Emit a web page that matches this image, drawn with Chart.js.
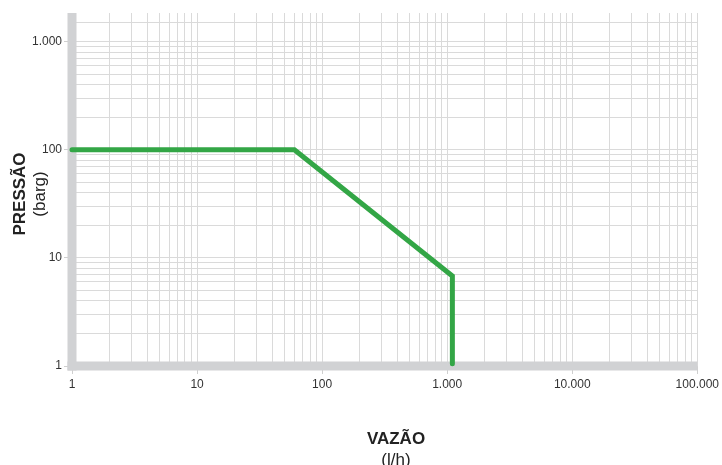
<!DOCTYPE html>
<html>
<head>
<meta charset="utf-8">
<script src="https://cdn.jsdelivr.net/npm/chart.js@4.4.1/dist/chart.umd.min.js"></script>
<style>
  html, body { margin: 0; padding: 0; background: #fff; }
  #wrap { width: 722px; height: 465px; }
</style>
</head>
<body>
<div id="wrap"><canvas id="myChart"></canvas></div>
<script>
// Curve (flow l/h vs pressure barg)
const flowValues = [1, 60, 1100, 1100];
const pressureValues = [100, 100, 6.8, 1.05];

// Axis ranges and labels
const xMin = 1, xMax = 100000;
const yMin = 1, yMax = 1840;
const xTickLabels = ['1', '10', '100', '1.000', '10.000', '100.000'];
const yTickLabels = ['1', '10', '100', '1.000'];
const yExtraGrid = [1500];

// 1..9 x 10^e grid lines for each decade
function decadeGrid(decades) {
    const out = [];
    for (let e = 0; e < decades; e++) {
        for (let k = 1; k <= 9; k++) out.push(k * Math.pow(10, e));
    }
    out.push(Math.pow(10, decades));
    return out;
}
const xGrid = decadeGrid(5);
const yGrid = decadeGrid(3).concat(yExtraGrid);

function powerIndex(v) {
    const e = Math.round(Math.log10(v));
    return Math.abs(Math.pow(10, e) - v) < 1e-6 ? e : -1;
}

const gridColor = '#dadada';
const axisColor = '#d1d2d4';
const textColor = '#333333';
const fontFamily = '"Liberation Sans", Arial, Helvetica, sans-serif';

// thick grey axis bars along x = 1 and y = 1
const axisBars = {
    id: 'axisBars',
    beforeDatasetsDraw(chart) {
        const a = chart.chartArea;
        const x0 = chart.scales.x.getPixelForValue(xMin);
        const y0 = chart.scales.y.getPixelForValue(yMin);
        const ctx = chart.ctx;
        ctx.save();
        ctx.fillStyle = axisColor;
        ctx.fillRect(x0 - 4.5, a.top, 9, y0 + 4.5 - a.top);
        ctx.fillRect(x0 - 4.5, y0 - 4.5, a.right - x0 + 4.5, 9);
        ctx.restore();
    }
};

const titles = {
    id: 'titles',
    afterDraw(chart) {
        const ctx = chart.ctx;
        ctx.save();
        ctx.fillStyle = '#222';
        ctx.textAlign = 'center';
        ctx.textBaseline = 'alphabetic';
        ctx.font = 'bold 17px ' + fontFamily;
        ctx.fillText('VAZÃO', 396, 444);
        ctx.font = '17px ' + fontFamily;
        ctx.fillText('(l/h)', 396, 465);

        ctx.translate(0, 194);
        ctx.rotate(-Math.PI / 2);
        ctx.font = 'bold 17px ' + fontFamily;
        ctx.fillText('PRESSÃO', 0, 25);
        ctx.font = '17px ' + fontFamily;
        ctx.fillText('(barg)', 0, 45);
        ctx.restore();
    }
};

const ctx = document.getElementById('myChart').getContext('2d');
new Chart(ctx, {
    type: 'line',
    data: {
        datasets: [{
            data: flowValues.map((x, i) => ({ x: x, y: pressureValues[i] })),
            borderColor: '#33a646',
            borderWidth: 5,
            borderCapStyle: 'round',
            borderJoinStyle: 'miter',
            pointRadius: 0,
            fill: false,
            clip: false
        }]
    },
    options: {
        responsive: true,
        maintainAspectRatio: false,
        animation: false,
        layout: { padding: { top: 13, right: 24, left: 0, bottom: 0 } },
        plugins: {
            legend: { display: false },
            tooltip: { enabled: false }
        },
        scales: {
            x: {
                type: 'logarithmic',
                min: xMin,
                max: xMax,
                bounds: 'data',
                afterBuildTicks: scale => { scale.ticks = xGrid.map(v => ({ value: v })); },
                afterFit: scale => { scale.height = 99; },
                grid: {
                    color: gridColor,
                    lineWidth: 1,
                    tickLength: 8,
                    tickColor: c => powerIndex(c.tick.value) >= 0 ? '#cfcfcf' : 'rgba(0,0,0,0)'
                },
                border: { display: false },
                ticks: {
                    autoSkip: false,
                    maxRotation: 0,
                    padding: 3,
                    color: textColor,
                    font: { family: fontFamily, size: 12 },
                    callback: v => { const i = powerIndex(v); return i >= 0 ? xTickLabels[i] : ''; }
                }
            },
            y: {
                type: 'logarithmic',
                min: yMin,
                max: yMax,
                bounds: 'data',
                afterBuildTicks: scale => { scale.ticks = yGrid.map(v => ({ value: v })); },
                afterFit: scale => { scale.width = 72; },
                grid: {
                    color: gridColor,
                    lineWidth: 1,
                    tickLength: 8,
                    tickColor: c => powerIndex(c.tick.value) >= 0 ? '#cfcfcf' : 'rgba(0,0,0,0)'
                },
                border: { display: false },
                ticks: {
                    autoSkip: false,
                    padding: 2,
                    color: textColor,
                    font: { family: fontFamily, size: 12 },
                    callback: v => { const i = powerIndex(v); return i >= 0 && i < yTickLabels.length ? yTickLabels[i] : ''; }
                }
            }
        }
    },
    plugins: [axisBars, titles]
});
</script>
</body>
</html>
